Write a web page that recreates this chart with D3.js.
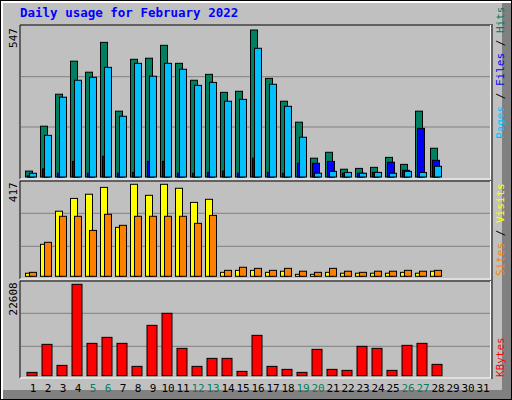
<!DOCTYPE html>
<html><head><meta charset="utf-8">
<script src="https://cdn.jsdelivr.net/npm/d3@7"></script>
<style>body{margin:0;background:#fff}svg{display:block}</style>
</head><body>
<script>
const days = d3.range(1, 32);
const weekendDays = [5, 6, 12, 13, 19, 20, 26, 27];
const hits  = [22,189,308,431,390,501,245,438,442,490,423,360,382,315,319,547,367,282,204,70,92,29,32,36,73,47,245,107];
const files = [14,155,297,360,371,408,226,423,375,423,401,341,352,282,289,479,345,263,148,14,21,17,14,17,14,21,17,40];
const pages = [4,30,14,58,14,77,14,17,58,58,14,14,17,22,14,70,17,14,51,51,58,14,14,17,55,25,181,62];
const visits= [14,145,295,353,372,403,222,417,367,417,399,335,349,18,27,27,18,23,9,9,18,14,14,14,14,18,14,23];
const sites = [18,154,272,272,208,281,231,272,272,272,272,240,276,27,41,36,27,36,23,18,36,23,18,23,23,27,23,27];
const kbytes= [825,7755,2557,22608,8003,9488,8003,2310,12458,15428,6765,2310,4290,4290,1073,9983,2310,1568,825,6518,1568,1320,7260,6765,1320,7508,8003,2805];
const maxLabels = ["547", "417", "22608"];

const W = 512, H = 400;
const svg = d3.select("body").append("svg").attr("width", W).attr("height", H);
const mono = "'DejaVu Sans Mono', monospace";

// background and frame
svg.append("rect").attr("x",0).attr("y",0).attr("width",W).attr("height",H).attr("fill","#000");
svg.append("rect").attr("x",1).attr("y",1).attr("width",W-2).attr("height",H-2).attr("fill","#fff");
svg.append("rect").attr("x",3).attr("y",3).attr("width",W-4).attr("height",H-4).attr("fill","#808080");
svg.append("rect").attr("x",3).attr("y",3).attr("width",W-13).attr("height",H-13).attr("fill","#c0c0c0");

svg.append("text").attr("x",20).attr("y",17).attr("fill","#0000ff")
  .attr("font-family",mono).attr("font-weight","bold").attr("font-size",12.5).text("Daily usage for February 2022");

const x = d3.scaleBand().domain(days).range([25, 490]).paddingInner(0);
const step = 15;
const xs = d => 25 + (d - 1) * step;

const panels = [
  {top:25, bot:179, base:177, maxY:30, max:547, grid:[127,76.7]},
  {top:181, bot:279, base:276.3, maxY:184.3, max:417, grid:[246.3,213.3]},
  {top:281, bot:378, base:375.7, maxY:284.3, max:22608, grid:[346.3,313.3]}
];
panels.forEach((p,i) => {
  p.y = d3.scaleLinear().domain([0,p.max]).range([p.base,p.maxY]);
  const g = svg.append("g");
  g.append("line").attr("x1",20).attr("x2",491).attr("y1",p.top).attr("y2",p.top).attr("stroke","#000");
  g.append("line").attr("x1",20).attr("x2",20).attr("y1",p.top).attr("y2",p.bot).attr("stroke","#000");
  g.append("line").attr("x1",20).attr("x2",491).attr("y1",p.bot).attr("y2",p.bot).attr("stroke","#fff");
  g.append("line").attr("x1",490.5).attr("x2",490.5).attr("y1",p.top).attr("y2",p.bot).attr("stroke","#fff");
  g.append("line").attr("x1",492).attr("x2",492).attr("y1",p.top-1).attr("y2",p.bot+1).attr("stroke","#000");
  p.grid.forEach(gy => g.append("line").attr("x1",21).attr("x2",490).attr("y1",gy).attr("y2",gy).attr("stroke","#808080"));
  svg.append("text").attr("transform",`translate(17,${p.maxY-2}) rotate(-90)`).attr("text-anchor","end")
    .attr("font-family",mono).attr("font-size",11).attr("fill","#000").text(maxLabels[i]);
});

function bars(data, p, off, w, color) {
  svg.append("g").selectAll("rect").data(data).join("rect")
    .attr("x",(v,i)=>xs(i+1)+off+0.5).attr("width",w)
    .attr("y",v=>p.y(v)).attr("height",v=>p.base-p.y(v))
    .attr("fill",color).attr("stroke","#000").attr("stroke-width",1);
}
bars(hits, panels[0], 0, 7, "#008060");
bars(pages, panels[0], 2, 7, "#0000ff");
bars(files, panels[0], 4, 7, "#00c0ff");
bars(visits, panels[1], 0, 7, "#ffff00");
bars(sites, panels[1], 4, 7, "#ff8000");
bars(kbytes, panels[2], 1.5, 10, "#ff0000");

svg.append("g").selectAll("text").data(days).join("text")
  .attr("x",d=>xs(d)+8).attr("y",392).attr("text-anchor","middle")
  .attr("font-family",mono).attr("font-size",11)
  .attr("fill",d=>weekendDays.includes(d)?"#008060":"#000").text(d=>d);

function sideLabel(y, parts) {
  const t = svg.append("text").attr("transform",`translate(504,${y}) rotate(-90)`)
    .attr("font-family",mono).attr("font-size",11);
  parts.forEach(([s,c]) => t.append("tspan").attr("fill",c).text(s));
}
sideLabel(139, [["Pages","#00c0ff"],[" / ","#000"],["Files","#0000ff"],[" / ","#000"],["Hits","#008060"]]);
sideLabel(276, [["Sites","#ff8000"],[" / ","#000"],["Visits","#ffff00"]]);
sideLabel(377, [["KBytes","#ff0000"]]);
</script>
</body></html>
